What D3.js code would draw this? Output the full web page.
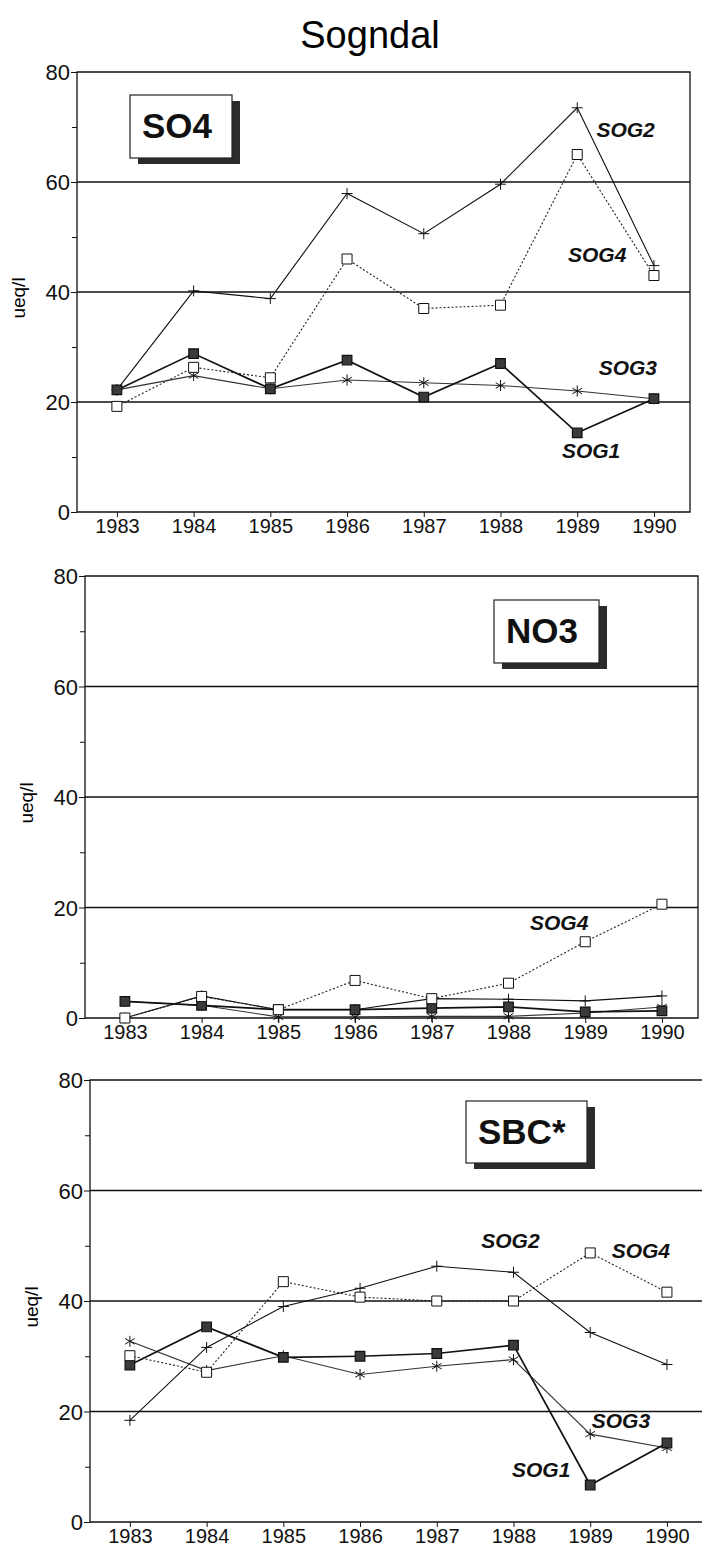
<!DOCTYPE html>
<html>
<head>
<meta charset="utf-8">
<script src="https://cdn.jsdelivr.net/npm/d3@7"></script>
<style>
  body { margin: 0; background: #fff; }
  svg { display: block; font-family: "Liberation Sans", Arial, sans-serif; }
  .grid { stroke: #111; stroke-width: 1.3; }
  .frame { stroke: #111; stroke-width: 1.3; fill: none; }
</style>
</head>
<body>
<svg id="chart" width="702" height="1546"></svg>
<script>
const years = [1983, 1984, 1985, 1986, 1987, 1988, 1989, 1990];
const yTicks = [0, 20, 40, 60, 80];
const yMinorTicks = [10, 30, 50, 70];
const seriesNames = ['SOG1', 'SOG2', 'SOG3', 'SOG4'];

const so4Sog1 = [22.2, 28.8, 22.4, 27.6, 20.9, 27.0, 14.4, 20.6];
const so4Sog2 = [22.2, 40.2, 38.8, 57.9, 50.6, 59.6, 73.5, 44.8];
const so4Sog3 = [22.2, 24.8, 22.4, 24.0, 23.5, 23.0, 22.0, 20.6];
const so4Sog4 = [19.2, 26.3, 24.4, 46.0, 37.0, 37.6, 65.0, 43.0];

const no3Sog1 = [3.0, 2.3, 1.5, 1.5, 1.8, 2.0, 1.1, 1.3];
const no3Sog2 = [0.0, 4.0, 1.5, 1.5, 3.5, 3.4, 3.1, 4.0];
const no3Sog3 = [3.0, 2.3, 0.2, 0.2, 0.3, 0.3, 0.9, 2.0];
const no3Sog4 = [0.0, 3.9, 1.5, 6.8, 3.5, 6.3, 13.8, 20.6];

const sbcSog1 = [28.4, 35.3, 29.8, 30.0, 30.5, 32.0, 6.7, 14.3];
const sbcSog2 = [18.4, 31.6, 39.0, 42.3, 46.3, 45.2, 34.3, 28.5];
const sbcSog3 = [32.7, 27.4, 30.1, 26.7, 28.2, 29.4, 15.9, 13.4];
const sbcSog4 = [30.1, 27.1, 43.5, 40.7, 40.0, 40.0, 48.7, 41.6];

// how each station is drawn
const styles = {
  SOG1: { marker: 'filled', width: 1.7, dash: null, color: '#111' },
  SOG2: { marker: 'plus', width: 1.1, dash: null, color: '#111' },
  SOG3: { marker: 'asterisk', width: 1.1, dash: null, color: '#333' },
  SOG4: { marker: 'open', width: 1.1, dash: '2,2', color: '#222' }
};

const panels = [
  {
    name: 'SO4', left: 77, top: 72, bottom: 512,
    values: [so4Sog1, so4Sog2, so4Sog3, so4Sog4],
    box: { x: 130, y: 95, w: 102, h: 63 },
    labels: [['SOG2', 1989.25, 68.2], ['SOG4', 1988.88, 45.5], ['SOG3', 1989.28, 24.9], ['SOG1', 1988.8, 9.8]]
  },
  {
    name: 'NO3', left: 85, top: 576, bottom: 1018,
    values: [no3Sog1, no3Sog2, no3Sog3, no3Sog4],
    box: { x: 494, y: 600, w: 105, h: 63 },
    labels: [['SOG4', 1988.28, 15.9]]
  },
  {
    name: 'SBC*', left: 90, top: 1080, bottom: 1522,
    values: [sbcSog1, sbcSog2, sbcSog3, sbcSog4],
    box: { x: 466, y: 1101, w: 121, h: 62 },
    labels: [['SOG2', 1987.58, 49.6], ['SOG4', 1989.28, 47.8], ['SOG3', 1989.02, 17.0], ['SOG1', 1987.98, 8.1]]
  }
];

const svg = d3.select('#chart');

svg.append('text')
  .attr('x', 370)
  .attr('y', 48)
  .attr('text-anchor', 'middle')
  .style('font-size', '38px')
  .text('Sogndal');

function markerPath(kind) {
  if (kind === 'plus') return 'M-5.5,0L5.5,0M0,-5.5L0,5.5';
  if (kind === 'asterisk') return 'M0,-5.5L0,5.5M-4.8,-2.8L4.8,2.8M-4.8,2.8L4.8,-2.8';
  const s = kind === 'filled' ? 4.8 : 5;
  return `M${-s},${-s}H${s}V${s}H${-s}Z`;
}

function drawPanel(p) {
  const width = 613;
  const x = d3.scaleLinear()
    .domain([1982.48, 1990.47])
    .range([p.left, p.left + width]);
  const y = d3.scaleLinear()
    .domain([0, 80])
    .range([p.bottom, p.top]);

  const g = svg.append('g');

  // grid lines at 20, 40, 60 and the frame
  g.selectAll('.grid')
    .data(yTicks.filter(d => d > 0 && d < 80))
    .enter()
    .append('line')
    .classed('grid', true)
    .attr('x1', p.left)
    .attr('x2', p.left + width)
    .attr('y1', d => y(d))
    .attr('y2', d => y(d));

  g.append('path')
    .classed('frame', true)
    .attr('d', `M${p.left},${p.bottom}V${p.top}H${p.left + width}V${p.bottom}Z`);

  const yAxis = d3.axisLeft(y)
    .tickValues(yTicks)
    .tickSize(6)
    .tickPadding(1);
  const ya = g.append('g')
    .attr('transform', `translate(${p.left},0)`)
    .call(yAxis)
    .attr('font-size', null)
    .attr('font-family', null);
  ya.select('.domain').remove();
  ya.selectAll('text')
    .style('font-size', '22px')
    .style('fill', '#111')
    .attr('dy', '0.36em');
  ya.selectAll('line').attr('stroke', '#111');

  const yMinor = g.append('g')
    .attr('transform', `translate(${p.left},0)`)
    .call(d3.axisLeft(y).tickValues(yMinorTicks).tickSize(5).tickFormat(''));
  yMinor.select('.domain').remove();
  yMinor.selectAll('line').attr('stroke', '#111');

  const xAxis = d3.axisBottom(x)
    .tickValues(years)
    .tickFormat(d3.format('d'))
    .tickSize(5)
    .tickPadding(2);
  const xa = g.append('g')
    .attr('transform', `translate(0,${p.bottom})`)
    .call(xAxis)
    .attr('font-size', null)
    .attr('font-family', null);
  xa.select('.domain').remove();
  xa.selectAll('text')
    .style('font-size', '20px')
    .style('fill', '#111');
  xa.selectAll('line').attr('stroke', '#111');

  g.append('text')
    .attr('transform', `translate(${p.left - 52},${(p.top + p.bottom) / 2 + 6}) rotate(-90)`)
    .attr('text-anchor', 'middle')
    .style('font-size', '19px')
    .text('ueq/l');

  // label box with drop shadow
  g.append('rect')
    .attr('x', p.box.x + 8)
    .attr('y', p.box.y + 6)
    .attr('width', p.box.w)
    .attr('height', p.box.h)
    .attr('fill', '#2b2b2b');
  g.append('rect')
    .attr('x', p.box.x)
    .attr('y', p.box.y)
    .attr('width', p.box.w)
    .attr('height', p.box.h)
    .attr('fill', '#fff')
    .attr('stroke', '#222')
    .attr('stroke-width', 1.2);
  g.append('text')
    .attr('x', p.box.x + 12)
    .attr('y', p.box.y + 43)
    .style('font-size', '35px')
    .style('font-weight', 'bold')
    .style('fill', '#111')
    .text(p.name);

  const line = d3.line()
    .x(d => x(d[0]))
    .y(d => y(d[1]));

  // draw SOG3, SOG2, SOG1 lines first, SOG4 on top like the scan
  const order = [2, 1, 0, 3];
  order.forEach(i => {
    const name = seriesNames[i];
    const st = styles[name];
    const pts = years.map((yr, j) => [yr, p.values[i][j]]);
    g.append('path')
      .attr('d', line(pts))
      .attr('fill', 'none')
      .attr('stroke', st.color)
      .attr('stroke-width', st.width)
      .attr('stroke-dasharray', st.dash);
  });
  order.forEach(i => {
    const name = seriesNames[i];
    const st = styles[name];
    const pts = years.map((yr, j) => [yr, p.values[i][j]]);
    g.selectAll(null)
      .data(pts)
      .enter()
      .append('path')
      .attr('transform', d => `translate(${x(d[0])},${y(d[1])})`)
      .attr('d', markerPath(st.marker))
      .attr('fill', st.marker === 'filled' ? '#3a3a3a' : st.marker === 'open' ? '#fff' : 'none')
      .attr('stroke', '#111')
      .attr('stroke-width', st.marker === 'filled' ? 1.2 : 1);
  });

  g.selectAll(null)
    .data(p.labels)
    .enter()
    .append('text')
    .attr('x', d => x(d[1]))
    .attr('y', d => y(d[2]))
    .style('font-size', '21px')
    .style('font-weight', 'bold')
    .style('font-style', 'italic')
    .style('fill', '#111')
    .text(d => d[0]);
}

panels.forEach(drawPanel);
</script>
</body>
</html>
